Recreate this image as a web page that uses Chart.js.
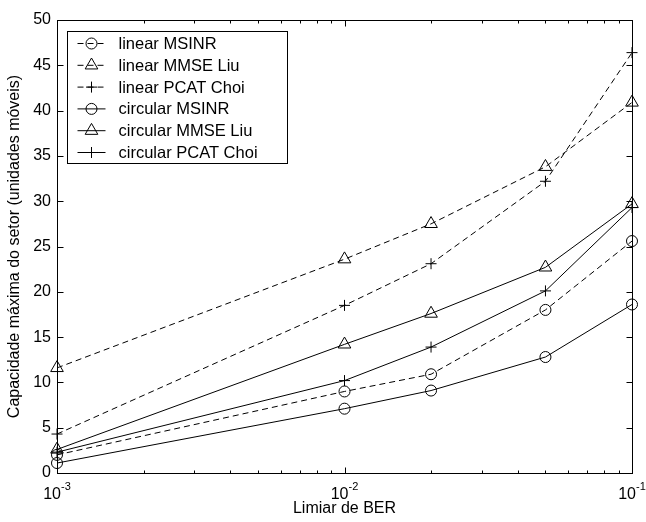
<!DOCTYPE html>
<html>
<head>
<meta charset="utf-8">
<script src="https://cdn.jsdelivr.net/npm/chart.js@4/dist/chart.umd.min.js"></script>
<style>
  html, body { margin: 0; padding: 0; background: #fff; }
  #box { width: 646px; height: 522px; }
</style>
</head>
<body>
<div id="box"><canvas id="grafico"></canvas></div>
<script>
// limiares de BER (eixo x, log)
var berLimits = [0.001, 0.01, 0.02, 0.05, 0.1];

// capacidade maxima (unidades moveis)
var linearMsinr      = [2.0, 9.0, 10.9, 18.0, 25.6];
var linearMmseLiu    = [11.6, 23.6, 27.5, 33.8, 40.9];
var linearPcatChoi   = [4.3, 18.5, 23.1, 32.2, 46.4];
var circularMsinr    = [1.1, 7.1, 9.1, 12.8, 18.6];
var circularMmseLiu  = [2.6, 14.2, 17.6, 22.7, 29.7];
var circularPcatChoi = [2.3, 10.2, 13.9, 20.1, 29.3];

var seriesNames = ['linear MSINR', 'linear MMSE Liu', 'linear PCAT Choi',
                   'circular MSINR', 'circular MMSE Liu', 'circular PCAT Choi'];

// ticks
var xMajorTicks = [0.001, 0.01, 0.1];
var xMinorTicks = [0.002, 0.003, 0.004, 0.005, 0.006, 0.007, 0.008, 0.009,
                   0.02, 0.03, 0.04, 0.05, 0.06, 0.07, 0.08, 0.09];
var xTickExponents = ['-3', '-2', '-1'];
var yTicks = [0, 5, 10, 15, 20, 25, 30, 35, 40, 45, 50];

var FONT = '"Liberation Sans", Arial, sans-serif';

function serie(nome, valores, tracejado, marcador, raio) {
	return {
		label: nome,
		data: berLimits.map(function(b, i){ return {x: b, y: valores[i]}; }),
		borderColor: '#000',
		borderWidth: 1,
		borderDash: tracejado ? [6, 4] : [],
		pointStyle: marcador,
		pointRadius: raio,
		pointHoverRadius: raio,
		pointBorderColor: '#000',
		pointBorderWidth: 1,
		pointBackgroundColor: 'rgba(0,0,0,0)',
		tension: 0,
		clip: false
	};
}

var datasets = [
	serie(seriesNames[0], linearMsinr, true, 'circle', 5.5),
	serie(seriesNames[1], linearMmseLiu, true, 'triangle', 7.3),
	serie(seriesNames[2], linearPcatChoi, true, 'cross', 5.5),
	serie(seriesNames[3], circularMsinr, false, 'circle', 5.5),
	serie(seriesNames[4], circularMmseLiu, false, 'triangle', 7.3),
	serie(seriesNames[5], circularPcatChoi, false, 'cross', 5.5)
];

function marcador(ctx, tipo, x, y, r) {
	ctx.beginPath();
	if (tipo === 'circle') {
		ctx.arc(x, y, r, 0, Math.PI * 2);
	} else if (tipo === 'triangle') {
		var a = 0;
		ctx.moveTo(x + Math.sin(a) * r, y - Math.cos(a) * r);
		a += 2 * Math.PI / 3;
		ctx.lineTo(x + Math.sin(a) * r, y - Math.cos(a) * r);
		a += 2 * Math.PI / 3;
		ctx.lineTo(x + Math.sin(a) * r, y - Math.cos(a) * r);
		ctx.closePath();
	} else {
		ctx.moveTo(x - r, y); ctx.lineTo(x + r, y);
		ctx.moveTo(x, y - r); ctx.lineTo(x, y + r);
	}
	ctx.stroke();
}

// moldura, ticks internos, rotulos 10^n e legenda estilo matlab
var estiloMatlab = {
	id: 'estiloMatlab',
	afterDraw: function(chart) {
		var ctx = chart.ctx;
		var a = chart.chartArea;
		var sx = chart.scales.x, sy = chart.scales.y;
		ctx.save();
		ctx.strokeStyle = '#000';
		ctx.lineWidth = 1;
		ctx.setLineDash([]);
		var L = Math.round(a.left) + 0.5, R = Math.round(a.right) + 0.5;
		var T = Math.round(a.top) + 0.5, B = Math.round(a.bottom) + 0.5;
		ctx.strokeRect(L, T, R - L, B - T);

		ctx.beginPath();
		xMajorTicks.concat(xMinorTicks).forEach(function(v){
			var px = Math.round(sx.getPixelForValue(v)) + 0.5;
			var len = xMajorTicks.indexOf(v) >= 0 ? 6 : 3;
			ctx.moveTo(px, B); ctx.lineTo(px, B - len);
			ctx.moveTo(px, T); ctx.lineTo(px, T + len);
		});
		yTicks.forEach(function(v){
			var py = Math.round(sy.getPixelForValue(v)) + 0.5;
			ctx.moveTo(L, py); ctx.lineTo(L + 6, py);
			ctx.moveTo(R, py); ctx.lineTo(R - 6, py);
		});
		ctx.stroke();

		// rotulos do eixo x: 10 com expoente
		ctx.fillStyle = '#000';
		ctx.textBaseline = 'alphabetic';
		xMajorTicks.forEach(function(v, i){
			var px = sx.getPixelForValue(v);
			ctx.font = '16px ' + FONT;
			var wBase = ctx.measureText('10').width;
			ctx.font = '11px ' + FONT;
			var wExp = ctx.measureText(xTickExponents[i]).width;
			var x0 = px - (wBase + wExp) / 2;
			ctx.font = '16px ' + FONT;
			ctx.textAlign = 'left';
			ctx.fillText('10', x0, B + 25);
			ctx.font = '11px ' + FONT;
			ctx.fillText(xTickExponents[i], x0 + wBase, B + 16);
		});

		// legenda
		var lx = Math.round(a.left) + 10.5, ly = Math.round(a.top) + 11.5;
		var lw = 220, lh = 132;
		ctx.fillStyle = '#fff';
		ctx.fillRect(lx, ly, lw, lh);
		ctx.strokeRect(lx, ly, lw, lh);
		chart.data.datasets.forEach(function(ds, i){
			var cy = ly + 12 + i * 21.8;
			ctx.setLineDash(ds.borderDash);
			ctx.beginPath();
			ctx.moveTo(lx + 10, cy); ctx.lineTo(lx + 38, cy);
			ctx.stroke();
			ctx.setLineDash([]);
			marcador(ctx, ds.pointStyle, lx + 24, cy, ds.pointRadius);
			ctx.fillStyle = '#000';
			ctx.font = '16.5px ' + FONT;
			ctx.textAlign = 'left';
			ctx.textBaseline = 'middle';
			ctx.fillText(ds.label, lx + 51, cy + 1);
		});
		ctx.restore();
	}
};

var ctx = document.getElementById('grafico');
var grafico = new Chart(ctx, {
	type: 'line',
	data: { datasets: datasets },
	plugins: [estiloMatlab],
	options: {
		responsive: true,
		maintainAspectRatio: false,
		animation: false,
		layout: { padding: { left: 0, top: 20, right: 14, bottom: 0 } },
		plugins: {
			legend: { display: false },
			tooltip: { enabled: false }
		},
		scales: {
			x: {
				type: 'logarithmic',
				min: 0.001,
				max: 0.1,
				grid: { display: false },
				border: { display: false },
				ticks: { display: false },
				afterBuildTicks: function(scale) {
					scale.ticks = xMajorTicks.map(function(v){ return {value: v}; });
				},
				afterFit: function(scale) { scale.height = 49; },
				title: {
					display: true,
					text: 'Limiar de BER',
					color: '#000',
					font: { family: FONT, size: 16 },
					padding: { top: 0, bottom: 4 }
				}
			},
			y: {
				min: 0,
				max: 50,
				grid: { display: false, drawTicks: false },
				border: { display: false },
				ticks: {
					stepSize: 5,
					color: '#000',
					padding: 6,
					font: { family: FONT, size: 16 }
				},
				afterFit: function(scale) { scale.width = 57; },
				title: {
					display: true,
					text: 'Capacidade máxima do setor (unidades móveis)',
					color: '#000',
					font: { family: FONT, size: 16 },
					padding: { top: 5, bottom: 0 }
				}
			}
		}
	}
});
</script>
</body>
</html>
